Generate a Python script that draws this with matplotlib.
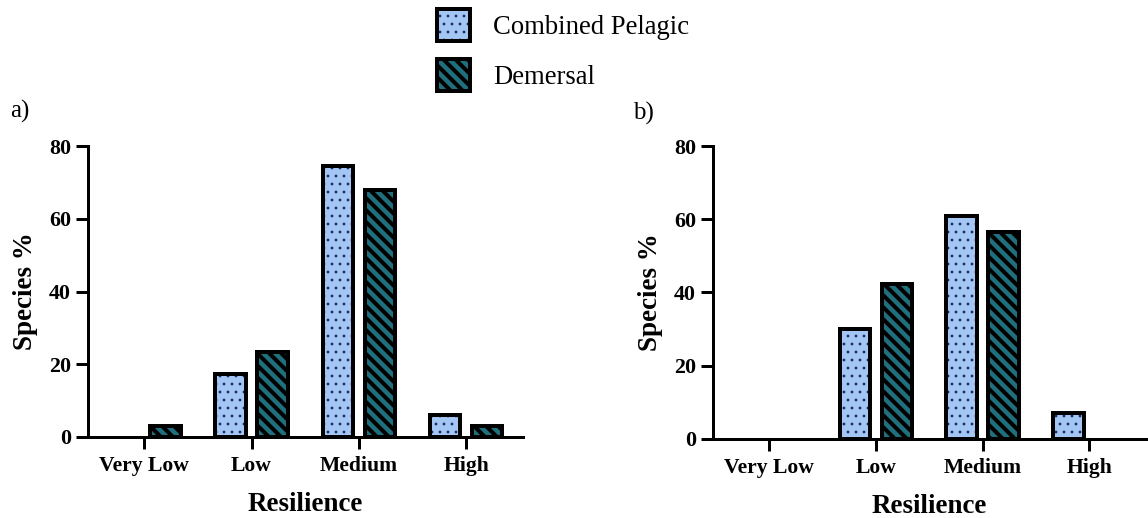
import matplotlib
matplotlib.use("Agg")
import matplotlib.pyplot as plt
from matplotlib.patches import Patch, Rectangle
from matplotlib.legend_handler import HandlerTuple
import numpy as np

# Resilience categories and species percentages per panel
categories = ["Very Low", "Low", "Medium", "High"]
pelagic_a = [0.0, 17.3, 74.5, 6.0]
demersal_a = [2.9, 23.4, 67.9, 2.9]
pelagic_b = [0.0, 30.0, 60.8, 7.0]
demersal_b = [0.0, 42.2, 56.4, 0.0]
y_ticks = [0, 20, 40, 60, 80]
series_names = ["Combined Pelagic", "Demersal"]

DPI = 144
W, H = 1148, 518

plt.rcParams["font.family"] = ["Liberation Serif", "DejaVu Serif"]
plt.rcParams["hatch.linewidth"] = 2.0

PEL_FACE = "#a3c6f5"
PEL_DOT = "#1b2f63"
DEM_FACE = "#1f6f7c"
EDGE = "black"
BAR_LW = 2.0
BAR_W = 0.285
OFFSET = 0.196

BSL = chr(92)
DOTS = "..."
STRIPES = BSL * 4
DOT_LW = 0.6
STRIPE_LW = 2.0


def draw_bars(ax, x, vals, face, hatch, hatch_color, hatch_lw):
    fill = ax.bar(x, vals, BAR_W, color=face, edgecolor=hatch_color,
                  hatch=hatch, linewidth=0, zorder=2)
    outline = ax.bar(x, vals, BAR_W, fill=False, edgecolor=EDGE,
                     linewidth=BAR_LW, zorder=3)
    for p in fill:
        if hasattr(p, "set_hatch_linewidth"):
            p.set_hatch_linewidth(hatch_lw)
    # empty categories are left blank
    for pf, po, v in zip(fill, outline, vals):
        if v == 0:
            pf.set_visible(False)
            po.set_visible(False)


def style_axes(ax):
    for s in ("top", "right"):
        ax.spines[s].set_visible(False)
    for s in ("left", "bottom"):
        ax.spines[s].set_linewidth(1.5)
    ax.set_xlim(-0.525, 3.53)
    ax.set_ylim(0, 80)
    ax.set_yticks(y_ticks)
    ax.set_xticks(np.arange(len(categories)))
    ax.set_xticklabels(categories, fontweight="bold", fontsize=10.8)
    for lab in ax.get_yticklabels():
        lab.set_fontweight("bold")
        lab.set_fontsize(11)
    ax.tick_params(axis="both", width=1.5, length=6, direction="out")
    ax.tick_params(axis="x", pad=3.5)
    ax.tick_params(axis="y", pad=2.5)
    ax.set_xlabel("Resilience", fontweight="bold", fontsize=13.5, labelpad=8)
    ax.set_ylabel("Species %", fontweight="bold", fontsize=13.5, labelpad=5.5)


fig = plt.figure(figsize=(W / DPI, H / DPI), dpi=DPI)
ax_a = fig.add_axes([88 / W, 1 - 437 / H, 435 / W, 291 / H])
ax_b = fig.add_axes([713 / W, 1 - 438.7 / H, 433 / W, 292.7 / H])

x = np.arange(len(categories))
for ax, pel, dem in ((ax_a, pelagic_a, demersal_a), (ax_b, pelagic_b, demersal_b)):
    draw_bars(ax, x - OFFSET, pel, PEL_FACE, DOTS, PEL_DOT, DOT_LW)
    draw_bars(ax, x + OFFSET, dem, DEM_FACE, STRIPES, "black", STRIPE_LW)
    style_axes(ax)

fig.text(10 / W, 1 - 111 / H, "a)", fontsize=12.5, va="center", ha="left")
fig.text(633 / W, 1 - 113 / H, "b)", fontsize=12.5, va="center", ha="left")

# Legend: patch fill + hatch layered under a heavy black outline
h_pel = (Patch(facecolor=PEL_FACE, edgecolor=PEL_DOT, hatch=DOTS, linewidth=0),
         Patch(fill=False, edgecolor=EDGE, linewidth=BAR_LW))
h_dem = (Patch(facecolor=DEM_FACE, edgecolor="black", hatch=STRIPES, linewidth=0),
         Patch(fill=False, edgecolor=EDGE, linewidth=BAR_LW))
leg = fig.legend([h_pel, h_dem], series_names,
                 handler_map={tuple: HandlerTuple(ndivide=1, pad=0)},
                 loc="upper left", bbox_to_anchor=(437 / W, 1 - 9 / H),
                 frameon=False, fontsize=13.3, handlelength=1.25, handleheight=1.5,
                 handletextpad=0.85, labelspacing=0.65, borderpad=0, borderaxespad=0)
for r in leg.findobj(Rectangle):
    if hasattr(r, "set_hatch_linewidth"):
        if r.get_hatch() == DOTS:
            r.set_hatch_linewidth(DOT_LW)
        elif r.get_hatch() == STRIPES:
            r.set_hatch_linewidth(STRIPE_LW)

fig.savefig("out.png", dpi=DPI)
